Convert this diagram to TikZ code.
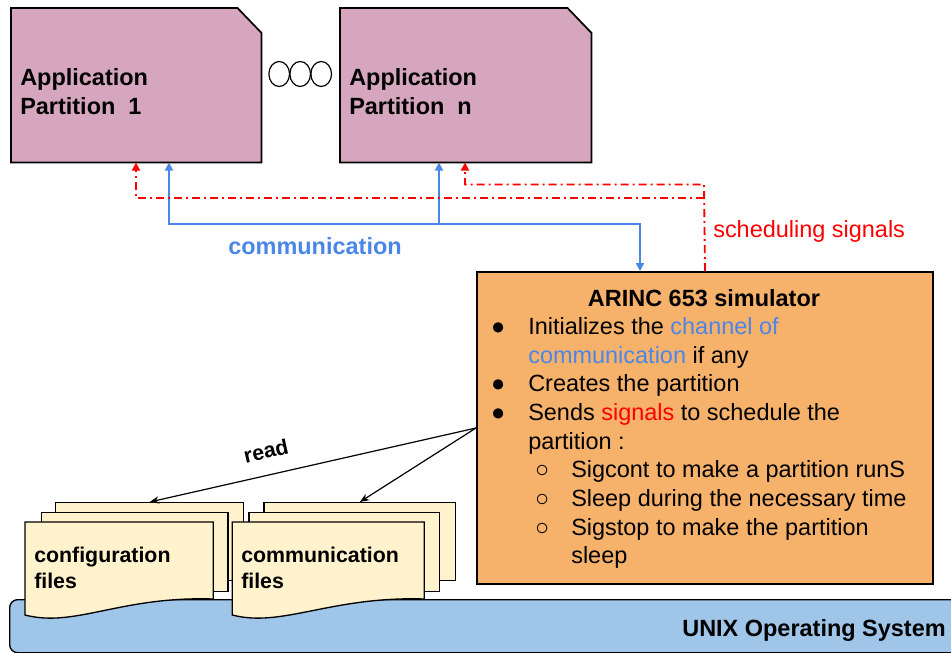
\documentclass[tikz,border=0pt]{standalone}
\usepackage{fontspec}
\setmainfont{Liberation Sans}
\usetikzlibrary{arrows.meta,shapes.geometric,calc}
\definecolor{cblue}{HTML}{4A86E8}
\definecolor{cred}{HTML}{FF0000}
\definecolor{cpart}{HTML}{D5A6BD}
\definecolor{csim}{HTML}{F6B26B}
\definecolor{cfile}{HTML}{FFF2CC}
\definecolor{cos}{HTML}{9FC5E8}
\newcommand\fbig{\fontsize{17.6pt}{21.5pt}\selectfont}
\newcommand\fsmall{\fontsize{16pt}{19.3pt}\selectfont}
\begin{document}
\begin{tikzpicture}[x=0.75pt,y=-0.75pt,
  txt/.style={inner sep=0pt, align=left, font=\fbig},
  anchorbox/.style={inner sep=0pt, anchor=north west},
  partbox/.style={fill=cpart, draw=black, line width=1.3pt, line join=miter},
  sheet/.style={draw=black, fill=cfile, line width=1pt, inner sep=0pt, anchor=north west},
  bluearrow/.style={draw=cblue, line width=1.3pt, {Triangle[length=6pt,width=6pt]}-{Triangle[length=6pt,width=6pt]}},
  bluearrowone/.style={draw=cblue, line width=1.3pt, -{Triangle[length=6pt,width=6pt]}},
  redarrow/.style={draw=cred, line width=1.4pt, dash pattern=on 6pt off 3pt on 1.5pt off 3pt, -{Triangle[length=6pt,width=6pt]}},
  readarrow/.style={draw=black, line width=0.9pt, -{Stealth[length=7pt,width=5.5pt]}},
  dots/.style={draw=black, line width=0.9pt, ellipse, minimum width=15.5pt, minimum height=18.75pt, inner sep=0pt}
]
\useasboundingbox (0,0) rectangle (951,653);
\clip (0,0) rectangle (951,653);

% UNIX operating system
\node[draw=black, fill=cos, line width=1pt, rounded corners=6pt, minimum width=724.5pt, minimum height=39.75pt, inner sep=0pt, anchor=north west] (os) at (9,599) {};
\node[font=\bfseries\fbig, inner sep=0pt, anchor=base east] (oslabel) at (946,636) {UNIX Operating System};

% partitions
\node[anchorbox, minimum width=187.5pt, minimum height=115.5pt] (p1) at (11,8) {};
\path[partbox] (p1.south west) -- (p1.north west) -- ([xshift=-18pt]p1.north east) -- ([yshift=-18.75pt]p1.north east) -- (p1.south east) -- cycle;
\node[txt, font=\bfseries\fbig, anchor=north west] (p1text) at (20,65) {\strut Application\\Partition\ \ 1};

\node[anchorbox, minimum width=188.25pt, minimum height=115.5pt] (pn) at (340,8) {};
\path[partbox] (pn.south west) -- (pn.north west) -- ([xshift=-18pt]pn.north east) -- ([yshift=-18.75pt]pn.north east) -- (pn.south east) -- cycle;
\node[txt, font=\bfseries\fbig, anchor=north west] (pntext) at (349,65) {\strut Application\\Partition\ \ n};

% ellipses
\node[dots] (e1) at (279.2,74) {};
\node[dots] (e2) at (300.2,74) {};
\node[dots] (e3) at (321.2,74) {};

% simulator box
\node[draw=black, fill=csim, line width=1.5pt, minimum width=342pt, minimum height=234pt, inner sep=0pt, anchor=north west] (sim) at (476,271) {};
\node[font=\bfseries\fbig, inner sep=0pt, anchor=base] (simtitle) at (704,306.7) {ARINC 653 simulator};
\node[txt, anchor=north west] (simlist) at (490,314.2) {%
\strut\makebox[12pt][c]{●}\hspace*{16.5pt}Initializes the \textcolor{cblue}{channel of}\\
\hspace*{28.5pt}\textcolor{cblue}{communication} if any\\
\makebox[12pt][c]{●}\hspace*{16.5pt}Creates the partition\\
\makebox[12pt][c]{●}\hspace*{16.5pt}Sends \textcolor{cred}{signals} to schedule the\\
\hspace*{28.5pt}partition :\\
\hspace*{33pt}\makebox[12pt][c]{○}\hspace*{15.75pt}Sigcont to make a partition runS\\
\hspace*{33pt}\makebox[12pt][c]{○}\hspace*{15.75pt}Sleep during the necessary time\\
\hspace*{33pt}\makebox[12pt][c]{○}\hspace*{15.75pt}Sigstop to make the partition\\
\hspace*{60.75pt}sleep};

% communication connectors
\coordinate (b1) at (169,224);
\coordinate (b2) at (439,224);
\coordinate (bj) at (640,224);
\draw[bluearrow] (p1.south -| b1) -- (b1) -- (bj) -- (sim.north -| bj);
\draw[bluearrowone] (b2) -- (pn.south -| b2);
\node[font=\bfseries\fbig, text=cblue, inner sep=0pt, anchor=base] (commlabel) at (315,254) {communication};

% scheduling signals
\coordinate (r1) at (136,198);
\coordinate (rj1) at (704,198);
\coordinate (r2) at (465,184.5);
\coordinate (rj2) at (704,184.5);
\draw[redarrow] (sim.north) -- (rj2) -- (r2) -- (pn.south -| r2);
\draw[redarrow] (rj1) -- (r1) -- (p1.south -| r1);
\node[font=\fbig, text=cred, inner sep=0pt, anchor=base west] (schedlabel) at (713,237) {scheduling signals};

% configuration files
\node[sheet, minimum width=141pt, minimum height=58.5pt] (cb) at (55,502) {};
\node[sheet, minimum width=140pt, minimum height=59pt] (cm) at (40.7,512) {};
\node[anchorbox, minimum width=141.25pt, minimum height=69.75pt] (cf) at (25,522) {};
\path[draw=black, fill=cfile, line width=1pt] (cf.north west) -- (213.3,522) -- (213.3,599) .. controls (120,596) and (75,628) .. (25,615) -- cycle;
\node[txt, font=\bfseries\fsmall, anchor=north west] (cftext) at (34,544.7) {\strut configuration\\files};

% communication files
\node[sheet, minimum width=143.75pt, minimum height=58.5pt] (mb) at (263.3,502) {};
\node[sheet, minimum width=143pt, minimum height=59pt] (mm) at (248.3,512) {};
\node[anchorbox, minimum width=144pt, minimum height=69.75pt] (mf) at (232.3,522) {};
\path[draw=black, fill=cfile, line width=1pt] (mf.north west) -- (424.3,522) -- (424.3,599) .. controls (331,596) and (282,628) .. (232.3,615) -- cycle;
\node[txt, font=\bfseries\fsmall, anchor=north west] (mftext) at (241,544.7) {\strut communication\\files};

% read arrows
\draw[readarrow] (sim.west) -- (cb.north);
\draw[readarrow] (sim.west) -- (mb.north);
\node[font=\bfseries\fsmall, inner sep=0pt, rotate=12.7] (read) at (266,451) {read};
\end{tikzpicture}
\end{document}
